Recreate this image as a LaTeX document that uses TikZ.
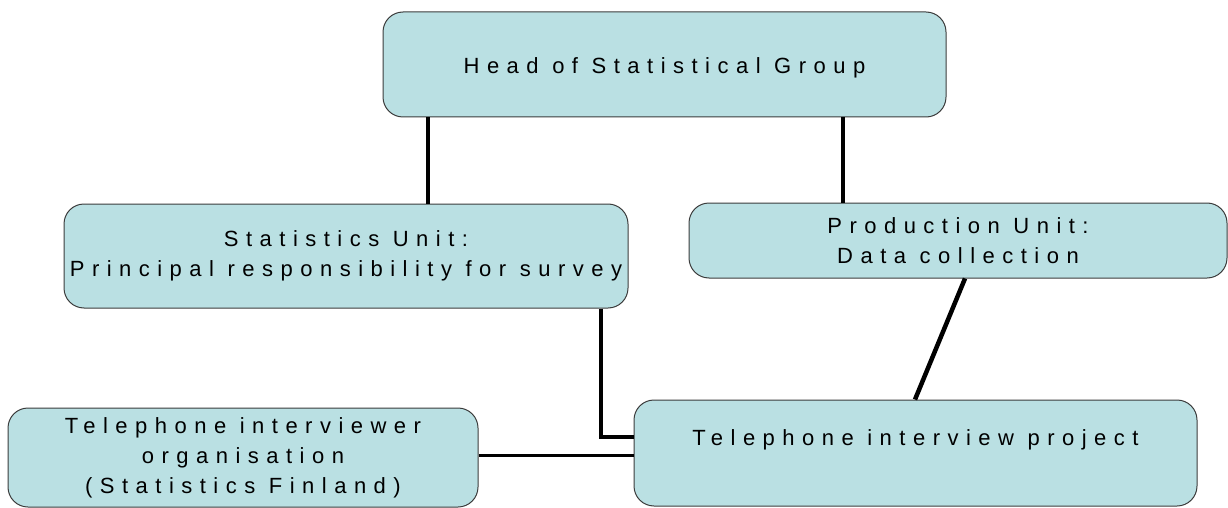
\documentclass[tikz,border=0pt]{standalone}
\usepackage{fontspec}
\setmainfont{Liberation Sans}[LetterSpace=34]
\definecolor{boxfill}{RGB}{186,224,227}
\definecolor{boxline}{RGB}{60,60,60}
\begin{document}
\begin{tikzpicture}[x=1pt,y=1pt,
  box/.style={draw=boxline, line width=1pt, fill=boxfill, rounded corners=20pt,
    align=center, inner sep=0pt, font=\fontsize{22}{30}\selectfont},
  conn/.style={line width=4.5pt, line join=miter},
  thinconn/.style={line width=3pt}]
\useasboundingbox (0,0) rectangle (1228,-508);
\node[box, minimum width=563pt, minimum height=105pt, text height=23pt, text depth=4pt] (head) at (664.5,-64.5) {Head of Statistical Group};
\node[box, minimum width=564pt, minimum height=104pt] (stats) at (346,-256) {Statistics Unit:\\Principal responsibility for survey};
\node[box, minimum width=538pt, minimum height=75pt] (prod) at (958,-240.5) {Production Unit:\\Data collection};
\node[box, minimum width=563pt, minimum height=106pt] (tip) at (915.5,-453) {Telephone interview project\\~};
\node[box, minimum width=470pt, minimum height=99pt] (org) at (243,-457.5) {Telephone interviewer\\organisation\\(Statistics Finland)};
\coordinate (c1) at (428,0);
\coordinate (c2) at (843,0);
\coordinate (c3) at (601,0);
\coordinate (c4) at (0,-437);
\coordinate (c5) at (965,0);
\coordinate (c6) at (915,0);
\coordinate (c7) at (0,-455);
\draw[conn] (head.south -| c1) -- (stats.north -| c1);
\draw[conn] (head.south -| c2) -- (prod.north -| c2);
\draw[conn] (stats.south -| c3) |- (tip.west |- c4);
\draw[conn] (prod.south -| c5) -- (tip.north -| c6);
\draw[thinconn] (org.east |- c7) -- (tip.west |- c7);
\end{tikzpicture}
\end{document}
